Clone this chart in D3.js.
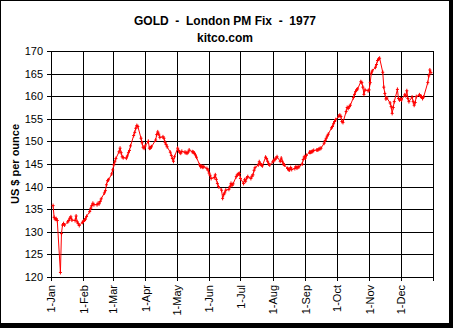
<!DOCTYPE html>
<html><head><meta charset="utf-8">
<script src="https://cdn.jsdelivr.net/npm/d3@7"></script>
<style>html,body{margin:0;padding:0;background:#fff;}svg{display:block;}</style>
</head><body><svg id="c" width="453" height="328"></svg>
<script>
const titleLines = ["GOLD  -  London PM Fix  -  1977", "kitco.com"];
const yAxisTitle = "US $ per ounce";
const yTicks = [120,125,130,135,140,145,150,155,160,165,170];
const monthTicks = ["1977-01-01","1977-02-01","1977-03-01","1977-04-01","1977-05-01","1977-06-01","1977-07-01","1977-08-01","1977-09-01","1977-10-01","1977-11-01","1977-12-01","1978-01-01"];
const dates = [
"01-03","01-04","01-05","01-06","01-07","01-10","01-11","01-12","01-13","01-14","01-17","01-18","01-19","01-20","01-21","01-24","01-25","01-26","01-27","01-28","01-31",
"02-01","02-02","02-03","02-04","02-07","02-08","02-09","02-10","02-11","02-14","02-15","02-16","02-17","02-18","02-21","02-22","02-23","02-24","02-25","02-28",
"03-01","03-02","03-03","03-04","03-07","03-08","03-09","03-10","03-11","03-14","03-15","03-16","03-17","03-18","03-21","03-22","03-23","03-24","03-25","03-28","03-29","03-30","03-31",
"04-01","04-04","04-05","04-06","04-07","04-11","04-12","04-13","04-14","04-15","04-18","04-19","04-20","04-21","04-22","04-25","04-26","04-27","04-28","04-29",
"05-02","05-03","05-04","05-05","05-06","05-09","05-10","05-11","05-12","05-13","05-16","05-17","05-18","05-19","05-20","05-23","05-24","05-25","05-26","05-27","05-30","05-31",
"06-01","06-02","06-03","06-06","06-07","06-08","06-09","06-10","06-13","06-14","06-15","06-16","06-17","06-20","06-21","06-22","06-23","06-24","06-27","06-28","06-29","06-30",
"07-01","07-04","07-05","07-06","07-07","07-08","07-11","07-12","07-13","07-14","07-15","07-18","07-19","07-20","07-21","07-22","07-25","07-26","07-27","07-28","07-29",
"08-01","08-02","08-03","08-04","08-05","08-08","08-09","08-10","08-11","08-12","08-15","08-16","08-17","08-18","08-19","08-22","08-23","08-24","08-25","08-26","08-29","08-30","08-31",
"09-01","09-02","09-05","09-06","09-07","09-08","09-09","09-12","09-13","09-14","09-15","09-16","09-19","09-20","09-21","09-22","09-23","09-26","09-27","09-28","09-29","09-30",
"10-03","10-04","10-05","10-06","10-07","10-10","10-11","10-12","10-13","10-14","10-17","10-18","10-19","10-20","10-21","10-24","10-25","10-26","10-27","10-28","10-31",
"11-01","11-02","11-03","11-04","11-07","11-08","11-09","11-10","11-11","11-14","11-15","11-16","11-17","11-18","11-21","11-22","11-23","11-24","11-25","11-28","11-29","11-30",
"12-01","12-02","12-05","12-06","12-07","12-08","12-09","12-12","12-13","12-14","12-15","12-16","12-19","12-20","12-21","12-22","12-23","12-27","12-28","12-29","12-30"];
const prices = [
135.8,133.2,132.8,132.9,132.5,121.0,129.6,131.5,131.8,131.5,132.2,132.5,133.0,133.3,132.6,132.5,133.5,132.2,131.8,131.4,132.1,
132.3,132.6,132.8,133.4,134.5,135.2,135.8,136.3,136.0,136.0,136.3,136.2,136.7,137.3,138.6,139.1,140.4,141.3,141.5,142.8,
143.7,144.8,145.5,146.2,147.7,148.5,147.5,146.6,146.4,146.3,146.8,147.5,148.0,149.0,151.3,152.0,152.9,153.5,153.3,150.7,149.7,148.7,148.5,
149.0,150.0,148.5,148.6,148.8,150.3,151.5,152.1,151.6,150.9,151.0,150.7,149.8,149.3,148.8,147.6,146.9,146.2,145.6,146.6,
148.5,148.0,147.6,147.4,147.8,147.6,147.5,147.4,147.6,148.1,147.7,147.6,147.4,147.0,146.5,144.8,144.4,144.5,144.3,144.4,144.0,143.7,
143.0,142.5,141.8,142.0,142.6,141.6,140.7,140.0,139.2,137.4,138.2,138.6,139.2,139.4,140.0,140.7,140.3,140.6,142.2,142.6,142.8,142.9,
141.8,140.7,141.5,141.2,141.9,142.2,141.8,142.3,142.6,143.6,144.2,144.8,145.5,145.0,144.8,144.6,146.5,146.2,145.6,145.0,144.8,
145.5,145.8,146.0,146.3,146.6,145.6,146.3,145.6,145.0,144.8,144.0,143.8,143.7,144.2,143.8,144.0,144.4,144.1,144.3,144.4,145.0,146.0,146.6,
146.3,146.9,147.6,147.6,147.7,147.8,148.0,148.1,148.1,148.3,148.4,148.5,149.6,150.2,150.7,151.2,151.6,153.0,153.3,153.9,154.4,154.8,
155.6,155.8,155.5,154.4,154.2,156.6,157.5,157.3,157.7,158.0,159.7,160.4,161.0,161.4,161.6,163.2,163.0,162.0,160.4,161.4,161.2,
161.4,163.0,165.1,165.6,166.4,167.0,167.9,168.2,168.4,165.3,162.0,160.6,159.4,159.6,158.5,157.7,156.2,157.5,158.8,161.5,159.5,159.2,
159.4,159.2,160.3,160.1,161.2,159.5,158.8,159.8,158.8,158.0,158.6,159.9,160.3,160.0,159.9,159.5,159.8,163.0,164.5,165.8,165.2];

const parse = d3.utcParse("%Y-%m-%d");
const data = dates.map((d,i)=>({date: parse("1977-"+d), value: prices[i]}));
const ticks = monthTicks.map(parse);

const svg = d3.select("#c");
const W=453,H=328;
const L=51,R=433,T=51,B=277;
svg.append("rect").attr("x",0).attr("y",0).attr("width",W).attr("height",H).attr("fill","#fff");

const x = d3.scaleUtc().domain([ticks[0], ticks[ticks.length-1]]).range([L,R]);
const y = d3.scaleLinear().domain([120,170]).range([B,T]);

// gridlines
const g = svg.append("g").attr("stroke","#000").attr("stroke-width",1).attr("shape-rendering","crispEdges");
g.selectAll("line.h").data(yTicks).join("line")
  .attr("x1",L).attr("x2",R+0.5).attr("y1",d=>Math.round(y(d))+0.5).attr("y2",d=>Math.round(y(d))+0.5);
g.selectAll("line.v").data(ticks).join("line")
  .attr("y1",T).attr("y2",B+0.5).attr("x1",d=>Math.round(x(d))+0.5).attr("x2",d=>Math.round(x(d))+0.5);

// axes
const fmt = d3.utcFormat("%-d-%b");
const ya = svg.append("g").attr("transform",`translate(${L},0)`)
  .call(d3.axisLeft(y).tickValues(yTicks).tickSize(4).tickPadding(4).tickFormat(d3.format("d")));
ya.select(".domain").remove();
ya.selectAll("line").attr("stroke","#000").attr("shape-rendering","crispEdges");
ya.selectAll("text").attr("font-family","'Liberation Sans', Arial, sans-serif").attr("font-size",11).attr("fill","#000");

const xa = svg.append("g").attr("transform",`translate(0,${B})`)
  .call(d3.axisBottom(x).tickValues(ticks).tickSize(4).tickFormat((d,i)=> i===ticks.length-1 ? "" : fmt(d)));
xa.select(".domain").remove();
xa.selectAll("line").attr("stroke","#000").attr("shape-rendering","crispEdges");
xa.selectAll("text").attr("font-family","'Liberation Sans', Arial, sans-serif").attr("font-size",11).attr("fill","#000")
  .attr("transform","rotate(-90)").attr("x",-8).attr("y",0).attr("dy","0.35em").style("text-anchor","end");

// line + markers
const line = d3.line().x(d=>x(d.date)).y(d=>y(d.value));
svg.append("path").datum(data).attr("d",line).attr("fill","none").attr("stroke","#ff0000").attr("stroke-width",1);
svg.append("g").selectAll("path").data(data).join("path")
  .attr("d","M-1.5,0H1.5M0,-2V2").attr("transform",d=>`translate(${x(d.date)},${y(d.value)})`)
  .attr("stroke","#ff0000").attr("stroke-width",1).attr("fill","none");

// titles
svg.append("text").attr("x",225).attr("y",25).attr("text-anchor","middle").style("white-space","pre")
  .attr("font-family","'Liberation Sans', Arial, sans-serif").attr("font-weight","bold").attr("font-size",12).text(titleLines[0]);
svg.append("text").attr("x",225).attr("y",42).attr("text-anchor","middle")
  .attr("font-family","'Liberation Sans', Arial, sans-serif").attr("font-weight","bold").attr("font-size",12).text(titleLines[1]);
svg.append("text").attr("transform",`translate(19,${(T+B)/2}) rotate(-90)`).attr("text-anchor","middle")
  .attr("font-family","'Liberation Sans', Arial, sans-serif").attr("font-weight","bold").attr("font-size",11).text(yAxisTitle);

// outer frame
const f = svg.append("g").attr("fill","#000").attr("shape-rendering","crispEdges");
f.append("rect").attr("x",0).attr("y",0).attr("width",W).attr("height",1);
f.append("rect").attr("x",0).attr("y",0).attr("width",1).attr("height",H);
f.append("rect").attr("x",449).attr("y",0).attr("width",4).attr("height",H);
f.append("rect").attr("x",0).attr("y",323).attr("width",W).attr("height",5);
</script></body></html>
